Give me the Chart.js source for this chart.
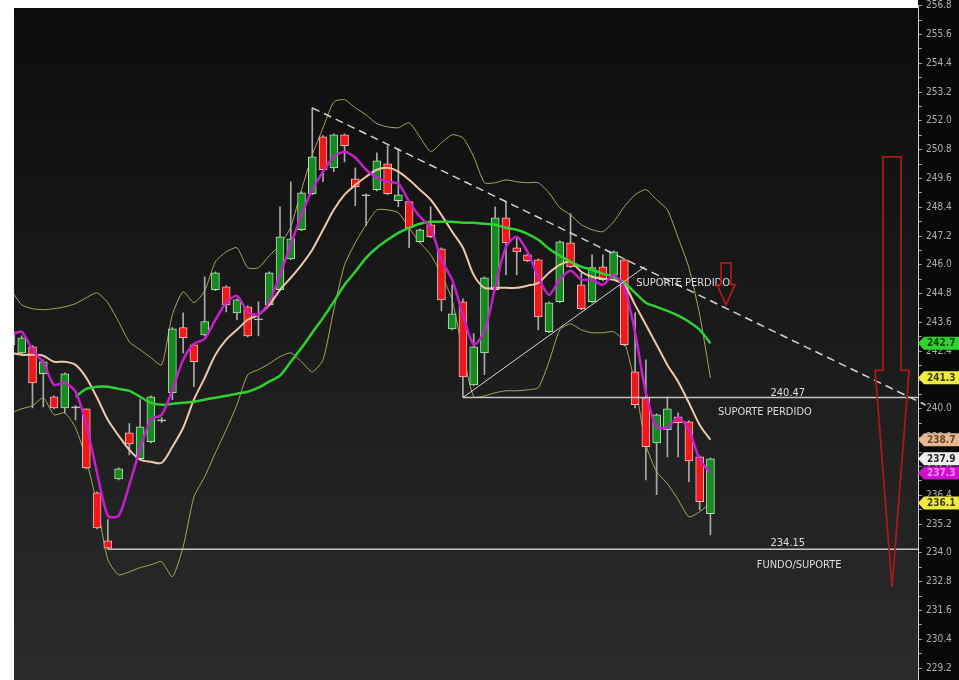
<!DOCTYPE html>
<html>
<head>
<meta charset="utf-8">
<title>Candles</title>
<script src="https://cdn.jsdelivr.net/npm/chart.js@4.4.1/dist/chart.umd.min.js"></script>
<style>
  html, body { margin: 0; padding: 0; background: #fff; }
  canvas { display: block; }
</style>
</head>
<body>
<canvas id="chart" width="959" height="680"></canvas>
<script>
// OHLC per candle (index = candle number)
const opens = [242.67, 242.33, 242.58, 241.46, 240.50, 240.04, 240.08, 240.00, 236.50, 234.50,
  237.08, 239.00, 237.92, 238.63, 239.54, 240.67, 243.38, 242.67, 243.08, 244.96,
  245.08, 244.00, 244.25, 243.75, 244.33, 244.96, 246.25, 247.46, 248.96, 251.33,
  250.04, 251.42, 249.58, 248.92, 249.13, 250.21, 248.67, 248.63, 246.96, 247.67,
  246.67, 243.33, 244.46, 241.00, 242.33, 244.96, 247.96, 246.71, 246.42, 246.21,
  243.21, 244.46, 246.92, 245.17, 244.46, 245.92, 245.58, 246.21, 241.54, 240.46,
  238.58, 239.13, 239.67, 239.46, 238.00, 235.63];
const highs = [243.38, 243.04, 242.63, 242.04, 240.54, 241.50, 240.13, 240.00, 236.54, 235.38,
  237.54, 239.38, 240.38, 240.54, 239.63, 243.38, 244.00, 242.71, 245.50, 245.71,
  245.13, 244.58, 244.29, 244.46, 245.71, 248.42, 249.46, 249.04, 252.54, 251.38,
  251.46, 251.46, 250.04, 248.96, 250.67, 250.96, 250.83, 248.67, 247.50, 248.42,
  246.71, 245.17, 244.58, 243.13, 245.50, 248.42, 248.63, 247.17, 246.46, 246.25,
  244.46, 247.00, 248.13, 245.67, 246.42, 246.42, 246.58, 246.25, 244.00, 242.04,
  239.79, 240.50, 239.83, 239.50, 238.04, 237.96];
const lows = [242.54, 242.25, 240.04, 240.08, 240.00, 239.83, 239.54, 237.50, 235.00, 234.15,
  237.04, 238.08, 237.88, 238.58, 239.42, 240.38, 242.33, 240.92, 243.04, 244.92,
  244.04, 243.71, 243.00, 243.04, 244.29, 244.92, 246.21, 247.42, 248.92, 249.46,
  249.88, 250.29, 248.46, 247.63, 249.08, 248.92, 248.42, 246.71, 246.92, 247.13,
  244.08, 243.29, 240.47, 240.96, 241.42, 244.92, 245.58, 245.58, 246.13, 243.29,
  243.17, 244.42, 245.88, 244.13, 244.42, 245.33, 245.54, 242.63, 240.04, 237.04,
  236.42, 238.00, 238.00, 236.96, 235.79, 234.75];
const closes = [243.21, 242.96, 241.08, 241.96, 240.04, 241.46, 240.04, 237.54, 235.04, 234.19,
  237.50, 238.54, 239.25, 240.50, 239.50, 243.33, 242.96, 241.96, 243.63, 245.67,
  244.33, 244.54, 243.04, 243.71, 245.67, 247.17, 247.08, 249.00, 250.50, 249.96,
  251.42, 250.96, 249.25, 248.88, 250.33, 248.96, 248.92, 247.54, 247.46, 247.17,
  244.54, 243.96, 241.33, 242.58, 245.46, 247.96, 246.92, 246.54, 246.17, 243.83,
  244.42, 246.96, 245.92, 244.17, 245.88, 245.38, 246.54, 242.67, 240.17, 238.42,
  239.75, 240.00, 239.42, 237.83, 236.13, 237.92];

// moving averages and bands
const fastMA = [243.08, 243.21, 242.46, 241.92, 241.00, 241.08, 240.71, 239.33, 237.33, 235.54,
  235.54, 236.83, 238.33, 239.54, 239.75, 240.79, 242.04, 242.71, 242.92, 243.71,
  244.42, 244.71, 244.04, 243.92, 244.46, 245.58, 246.83, 248.08, 249.13, 249.88,
  250.50, 250.71, 250.46, 249.96, 249.63, 249.46, 249.38, 248.63, 248.00, 247.54,
  246.21, 245.38, 243.92, 242.67, 243.21, 245.08, 246.75, 247.17, 246.54, 245.50,
  244.75, 245.38, 245.75, 245.38, 245.38, 245.17, 245.58, 245.04, 243.17, 240.67,
  239.25, 239.21, 239.63, 239.13, 237.88, 237.33];
const midMA = [242.33, 242.25, 242.25, 242.21, 241.96, 241.96, 241.83, 241.29, 240.46, 239.54,
  238.88, 238.29, 237.88, 237.79, 237.75, 238.42, 239.21, 240.38, 241.29, 242.25,
  242.88, 243.29, 243.71, 243.92, 244.33, 244.96, 245.46, 246.00, 246.63, 247.46,
  248.29, 248.92, 249.33, 249.67, 249.96, 250.04, 249.88, 249.54, 249.13, 248.71,
  248.08, 247.38, 246.71, 245.58, 245.04, 245.04, 245.04, 245.04, 245.13, 245.25,
  245.67, 246.00, 246.13, 245.71, 245.50, 245.42, 245.38, 245.17, 244.33, 243.50,
  242.67, 241.83, 241.13, 240.25, 239.33, 238.71];
const slowMA = [null, null, null, null, null, null, 240.50, 240.83, 240.92, 240.92,
  240.83, 240.75, 240.50, 240.25, 240.17, 240.21, 240.25, 240.29, 240.38, 240.46,
  240.54, 240.63, 240.71, 240.88, 241.13, 241.38, 241.96, 242.54, 243.17, 243.79,
  244.46, 245.17, 245.71, 246.29, 246.71, 247.04, 247.33, 247.54, 247.71, 247.79,
  247.79, 247.79, 247.75, 247.75, 247.71, 247.67, 247.54, 247.46, 247.29, 247.04,
  246.67, 246.38, 246.13, 245.92, 245.79, 245.63, 245.50, 245.25, 244.83, 244.42,
  244.25, 244.08, 243.88, 243.63, 243.29, 242.73];
const upperBand = [244.96, 244.33, 244.17, 244.13, 244.17, 244.25, 244.38, 244.63, 244.83, 244.42,
  243.63, 242.79, 242.46, 242.13, 241.83, 243.92, 244.88, 244.42, 244.92, 246.13,
  246.54, 246.71, 245.88, 245.88, 246.38, 246.83, 247.58, 249.13, 250.58, 251.71,
  252.79, 252.88, 252.54, 252.25, 251.88, 251.75, 251.71, 251.92, 251.33, 250.71,
  251.08, 251.42, 251.29, 250.50, 249.42, 249.42, 249.54, 249.46, 249.42, 249.42,
  249.00, 248.38, 248.08, 247.67, 247.46, 247.38, 247.79, 248.42, 248.92, 249.13,
  248.71, 248.29, 247.13, 245.88, 243.92, 241.29];
const lowerBand = [239.83, 240.00, 240.13, 240.46, 239.75, 239.83, 239.21, 237.88, 236.00, 233.71,
  233.08, 233.21, 233.38, 233.50, 233.63, 233.00, 234.25, 236.33, 237.17, 238.17,
  239.13, 240.17, 241.42, 241.63, 241.88, 242.17, 242.33, 241.96, 241.54, 242.04,
  244.13, 246.00, 246.92, 247.67, 248.29, 248.29, 248.17, 247.54, 246.92, 246.42,
  245.58, 244.54, 242.33, 240.50, 240.54, 240.67, 240.75, 240.75, 240.79, 240.88,
  241.96, 243.29, 243.54, 243.29, 243.17, 243.17, 243.21, 242.79, 241.00, 238.50,
  237.38, 236.88, 236.21, 235.50, 235.71, 236.08];

// price axis labels
const yTickLabels = ['229.2', '230.4', '231.6', '232.8', '234.0', '235.2', '236.4', '237.6',
  '238.8', '240.0', '241.2', '242.4', '243.6', '244.8', '246.0', '247.2', '248.4', '249.6',
  '250.8', '252.0', '253.2', '254.4', '255.6', '256.8'];

// drawn studies (candle index / price)
const levels = [
  { value: 240.47, from: 42 },
  { value: 234.15, from: 9 }
];
const trendDown = [{ x: 28, y: 252.54 }, { x: 85, y: 240.16 }];
const trendUp = [{ x: 42, y: 240.47 }, { x: 58.9, y: 245.92 }];
const notes = [
  { text: '240.47', x: 73.8, y: 240.67, align: 'right' },
  { text: 'SUPORTE PERDIDO', x: 65.7, y: 239.88, align: 'left' },
  { text: '234.15', x: 73.8, y: 234.42, align: 'right' },
  { text: 'FUNDO/SUPORTE', x: 69.3, y: 233.5, align: 'left' },
  { text: 'SUPORTE PERDIDO', x: 58.1, y: 245.25, align: 'left' }
];
const arrows = [
  { x: 66.45, top: 246.08, neck: 245.17, tip: 244.33, shaft: 5, head: 9 },
  { x: 81.88, top: 250.5, neck: 241.6, tip: 232.58, shaft: 9, head: 17 }
];

const FONT = '"Liberation Sans Narrow", "DejaVu Sans Condensed", sans-serif';

const pts = arr => arr.map((v, i) => ({ x: i, y: v }));
const isDoji = i => Math.abs(closes[i] - opens[i]) < 0.05;

const bodyFill = opens.map((o, i) => isDoji(i) ? '#d8d8d8' : (closes[i] > o ? '#158a1f' : '#f01818'));
const bodyEdge = opens.map((o, i) => isDoji(i) ? '#d8d8d8' : (closes[i] > o ? '#bcdcbc' : '#f4b8b8'));

const bgPlugin = {
  id: 'bg',
  beforeDraw(chart) {
    const { ctx, chartArea: a, width, height } = chart;
    ctx.save();
    ctx.fillStyle = '#ffffff';
    ctx.fillRect(0, 0, width, height);
    const g = ctx.createLinearGradient(0, 8, 0, height);
    g.addColorStop(0, '#0c0c0c');
    g.addColorStop(0.5, '#1b1b1b');
    g.addColorStop(1, '#2b2b2b');
    ctx.fillStyle = g;
    ctx.fillRect(a.left, 8, a.right - a.left, height - 8);
    ctx.fillStyle = '#080808';
    ctx.fillRect(a.right, 0, width - a.right, height);
    ctx.restore();
  }
};

const studiesPlugin = {
  id: 'studies',
  afterDatasetsDraw(chart) {
    const { ctx, chartArea: a, scales: { x, y } } = chart;
    ctx.save();

    // horizontal support levels
    ctx.strokeStyle = '#c4c4c4';
    ctx.lineWidth = 1.5;
    levels.forEach(l => {
      const py = y.getPixelForValue(l.value);
      ctx.beginPath();
      ctx.moveTo(x.getPixelForValue(l.from), py);
      ctx.lineTo(a.right, py);
      ctx.stroke();
    });

    // rising support line
    ctx.strokeStyle = '#d6d6d6';
    ctx.lineWidth = 1;
    ctx.beginPath();
    ctx.moveTo(x.getPixelForValue(trendUp[0].x), y.getPixelForValue(trendUp[0].y));
    ctx.lineTo(x.getPixelForValue(trendUp[1].x), y.getPixelForValue(trendUp[1].y));
    ctx.stroke();

    // falling dashed resistance
    ctx.strokeStyle = '#d2d2d2';
    ctx.lineWidth = 1.5;
    ctx.setLineDash([8, 5]);
    ctx.beginPath();
    ctx.moveTo(x.getPixelForValue(trendDown[0].x), y.getPixelForValue(trendDown[0].y));
    ctx.lineTo(x.getPixelForValue(trendDown[1].x), y.getPixelForValue(trendDown[1].y));
    ctx.stroke();
    ctx.setLineDash([]);

    // texts
    ctx.font = '11px ' + FONT;
    ctx.fillStyle = '#dcdcdc';
    ctx.textBaseline = 'middle';
    notes.forEach(n => {
      ctx.textAlign = n.align;
      ctx.fillText(n.text, x.getPixelForValue(n.x), y.getPixelForValue(n.y));
    });

    // red outline arrows
    ctx.strokeStyle = '#a81a1a';
    ctx.lineWidth = 1.8;
    arrows.forEach(ar => {
      const cx = x.getPixelForValue(ar.x);
      const top = y.getPixelForValue(ar.top);
      const neck = y.getPixelForValue(ar.neck);
      const tip = y.getPixelForValue(ar.tip);
      ctx.beginPath();
      ctx.moveTo(cx - ar.shaft, top);
      ctx.lineTo(cx + ar.shaft, top);
      ctx.lineTo(cx + ar.shaft, neck);
      ctx.lineTo(cx + ar.head, neck);
      ctx.lineTo(cx, tip);
      ctx.lineTo(cx - ar.head, neck);
      ctx.lineTo(cx - ar.shaft, neck);
      ctx.closePath();
      ctx.stroke();
    });
    ctx.restore();
  }
};

// last value tags on the price axis
const tagsPlugin = {
  id: 'tags',
  afterDraw(chart) {
    const { ctx, chartArea: a, scales: { y } } = chart;
    const last = arr => arr[arr.length - 1];
    const tags = [
      { v: last(slowMA), bg: '#2fd42f', fg: '#0b3d0b' },
      { v: last(upperBand), bg: '#f0ec3c', fg: '#3a3a10' },
      { v: last(midMA), bg: '#e6b894', fg: '#6a4428' },
      { v: last(closes), bg: '#f2f2f2', fg: '#222222' },
      { v: last(fastMA), bg: '#cc12cc', fg: '#ff8cff' },
      { v: last(lowerBand), bg: '#f0ec3c', fg: '#3a3a10' }
    ];
    ctx.save();
    ctx.font = 'bold 10px ' + FONT;
    ctx.textBaseline = 'middle';
    ctx.textAlign = 'left';
    tags.forEach(t => {
      const py = y.getPixelForValue(t.v);
      const x0 = a.right;
      ctx.fillStyle = t.bg;
      ctx.beginPath();
      ctx.moveTo(x0, py);
      ctx.lineTo(x0 + 6, py - 6.5);
      ctx.lineTo(chart.width, py - 6.5);
      ctx.lineTo(chart.width, py + 6.5);
      ctx.lineTo(x0 + 6, py + 6.5);
      ctx.closePath();
      ctx.fill();
      ctx.fillStyle = t.fg;
      ctx.fillText(t.v.toFixed(1), x0 + 9, py + 0.5);
    });
    ctx.restore();
  }
};

new Chart(document.getElementById('chart'), {
  type: 'line',
  data: {
    datasets: [
      {
        type: 'line', label: 'Upper', data: pts(upperBand), order: 10,
        borderColor: '#ada55c', borderWidth: 1, pointRadius: 0, tension: 0.2
      },
      {
        type: 'line', label: 'Lower', data: pts(lowerBand), order: 10,
        borderColor: '#ada55c', borderWidth: 1, pointRadius: 0, tension: 0.2
      },
      {
        type: 'bar', label: 'Wicks', order: 9, grouped: false,
        data: lows.map((l, i) => ({ x: i, y: [l, highs[i]] })),
        backgroundColor: '#a9a9a9', barThickness: 1, borderWidth: 0
      },
      {
        type: 'bar', label: 'Bodies', order: 8, grouped: false,
        data: opens.map((o, i) => ({ x: i, y: [o, closes[i]] })),
        backgroundColor: bodyFill, borderColor: bodyEdge, borderWidth: 1,
        borderSkipped: false, barThickness: 8
      },
      {
        type: 'line', label: 'MA mid', data: pts(midMA), order: 3,
        borderColor: '#f0c7a6', borderWidth: 2, pointRadius: 0, tension: 0.3
      },
      {
        type: 'line', label: 'MA slow', data: pts(slowMA), order: 2,
        borderColor: '#2fd02f', borderWidth: 2.5, pointRadius: 0, tension: 0.3
      },
      {
        type: 'line', label: 'MA fast', data: pts(fastMA), order: 1,
        borderColor: '#c61ecc', borderWidth: 2.5, pointRadius: 0, tension: 0.25
      }
    ]
  },
  options: {
    responsive: false,
    animation: false,
    devicePixelRatio: 1,
    layout: { padding: { left: 14, top: 5.6, right: 0, bottom: 0 } },
    plugins: {
      legend: { display: false },
      tooltip: { enabled: false }
    },
    events: [],
    scales: {
      x: {
        type: 'linear',
        display: false,
        offset: false,
        min: 0.28,
        max: 84.29
      },
      y: {
        position: 'right',
        min: 228.7,
        max: 256.8,
        afterFit(scale) {
          // fixed axis strip, no label overhang padding
          scale.width = 41;
          scale.paddingTop = 0;
          scale.paddingBottom = 0;
        },
        afterBuildTicks(scale) {
          const majors = yTickLabels.map(Number);
          const ticks = [];
          majors.forEach((v, i) => {
            ticks.push({ value: v });
            if (i < majors.length - 1) ticks.push({ value: Math.round((v + 0.6) * 10) / 10 });
          });
          scale.ticks = ticks;
        },
        ticks: {
          autoSkip: false,
          color: '#b2b2b2',
          padding: 4,
          font: { size: 10, family: FONT },
          callback(value) {
            const s = value.toFixed(1);
            return yTickLabels.includes(s) ? s : '';
          }
        },
        grid: { drawOnChartArea: false, drawTicks: true, tickLength: 4, color: '#9c9c9c' },
        border: { display: true, color: '#cfcfcf', width: 1 }
      }
    }
  },
  plugins: [bgPlugin, studiesPlugin, tagsPlugin]
});
</script>
</body>
</html>
